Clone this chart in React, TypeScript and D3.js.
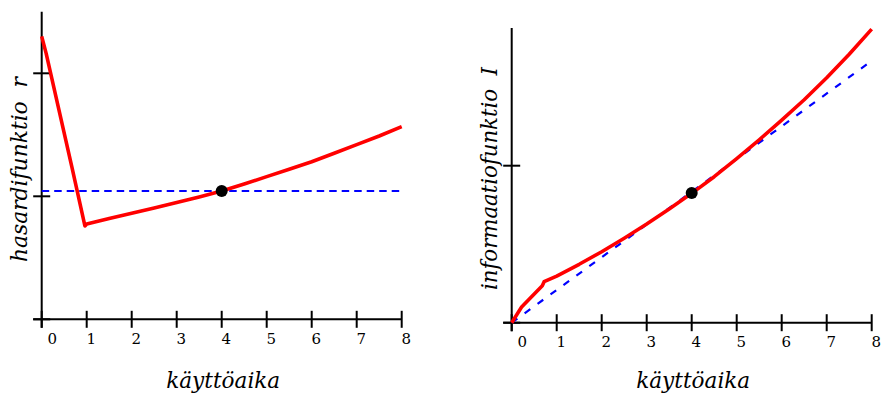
import React from "react";
import * as d3 from "d3";

// ---------- data ----------
const xTicks = [0, 1, 2, 3, 4, 5, 6, 7, 8];

// left panel: hazard function r(t)
const hazardT = [0, 0.1, 0.67, 0.96, 1, 1.5, 2, 2.5, 3, 3.5, 4, 4.5, 5, 5.5, 6, 6.5, 7, 7.5, 8];
const hazardR = [2.3, 2.16, 1.24, 0.759, 0.775, 0.82, 0.862, 0.905, 0.95, 0.995, 1.043, 1.1, 1.16, 1.22, 1.281, 1.35, 1.42, 1.49, 1.566];
const constHazardT = [0, 8];
const constHazardR = [1.043, 1.043];
const leftYTicks = [0, 1, 2];
const leftDot = { t: 4, v: 1.043 };

// right panel: information function I(t)
const infoT = [0, 0.22, 0.68, 0.72, 1, 1.5, 2, 2.5, 3, 3.5, 4, 4.5, 5, 5.5, 6, 6.5, 7, 7.5, 8];
const infoI = [0, 0.1, 0.236, 0.261, 0.297, 0.372, 0.452, 0.538, 0.628, 0.724, 0.824, 0.93, 1.045, 1.165, 1.29, 1.42, 1.56, 1.71, 1.87];
const linInfoT = [0, 8];
const linInfoI = [0, 1.668];
const rightYTicks = [0, 1];
const rightDot = { t: 4, v: 0.826 };

const xTitle = "käyttöaika";
const leftYTitle = "hasardifunktio\u00a0\u00a0r";
const rightYTitle = "informaatiofunktio\u00a0\u00a0I";

const serif = "DejaVu Serif";

type PanelProps = {
  x0: number; x1: number; y0: number; yTop: number; yMax: number;
  yTicks: number[];
  redT: number[]; redV: number[];
  blueT: number[]; blueV: number[];
  dot: { t: number; v: number };
  dash: string;
  yTitle: string; yTitleX: number; yTitleY: number; yTitleLen: number;
};

function Panel(p: PanelProps) {
  const x = d3.scaleLinear().domain([0, 8]).range([p.x0, p.x1]);
  const y = d3.scaleLinear().domain([0, p.yMax]).range([p.y0, p.yTop]);
  const line = d3.line<[number, number]>().x((d) => x(d[0])).y((d) => y(d[1]));
  const red = line(p.redT.map((t, i) => [t, p.redV[i]] as [number, number])) || "";
  const blue = line(p.blueT.map((t, i) => [t, p.blueV[i]] as [number, number])) || "";
  const tk = 8.5;
  return (
    <g>
      {/* axes */}
      <line x1={x(0)} x2={x(0)} y1={y(p.yMax)} y2={p.y0 + tk} stroke="#000" strokeWidth={2} />
      <line x1={x(0) - tk} x2={x(8)} y1={p.y0} y2={p.y0} stroke="#000" strokeWidth={2} />
      {xTicks.map((t) => (
        <g key={"xt" + t}>
          <line x1={x(t)} x2={x(t)} y1={p.y0 - tk} y2={p.y0 + tk} stroke="#000" strokeWidth={2} />
          <text x={x(t) + (t === 0 ? 10.5 : 4.5)} y={p.y0 + 24.5} fontFamily={serif} fontSize={15} textAnchor="middle" fill="#000">
            {t}
          </text>
        </g>
      ))}
      {p.yTicks.map((v) => (
        <line key={"yt" + v} x1={x(0) - tk} x2={x(0) + tk} y1={y(v)} y2={y(v)} stroke="#000" strokeWidth={2} />
      ))}
      {/* series */}
      <path d={blue} fill="none" stroke="#0000ff" strokeWidth={2.2} strokeDasharray={p.dash} />
      <path d={red} fill="none" stroke="#ff0000" strokeWidth={3.6} strokeLinejoin="round" />
      <circle cx={x(p.dot.t)} cy={y(p.dot.v)} r={6} fill="#000" />
      {/* titles */}
      <text x={x(4) + 1.5} y={388} fontFamily={serif} fontStyle="italic" fontSize={22} textAnchor="middle" textLength={114} lengthAdjust="spacingAndGlyphs" fill="#000">
        {xTitle}
      </text>
      <text
        transform={`translate(${p.yTitleX},${p.yTitleY}) rotate(-90)`}
        fontFamily={serif} fontStyle="italic" fontSize={22} textAnchor="middle"
        textLength={p.yTitleLen} lengthAdjust="spacingAndGlyphs" fill="#000"
      >
        {p.yTitle}
      </text>
    </g>
  );
}

export default function App() {
  return (
    <svg width={883} height={396} fontFamily={serif} style={{ position: "absolute", left: 0, top: 0, background: "#fff" }}>
      <Panel
        x0={41.7} x1={401.7} y0={319.3} yTop={11.8} yMax={2.5} yTicks={leftYTicks}
        redT={hazardT} redV={hazardR} blueT={constHazardT} blueV={constHazardR}
        dot={leftDot} dash="7.5,5"
        yTitle={leftYTitle} yTitleX={27} yTitleY={169.5} yTitleLen={185}
      />
      <Panel
        x0={511.7} x1={871.7} y0={322.7} yTop={28} yMax={1.877} yTicks={rightYTicks}
        redT={infoT} redV={infoI} blueT={linInfoT} blueV={linInfoI}
        dot={rightDot} dash="7,9"
        yTitle={rightYTitle} yTitleX={496.5} yTitleY={178.5} yTitleLen={223}
      />
    </svg>
  );
}
